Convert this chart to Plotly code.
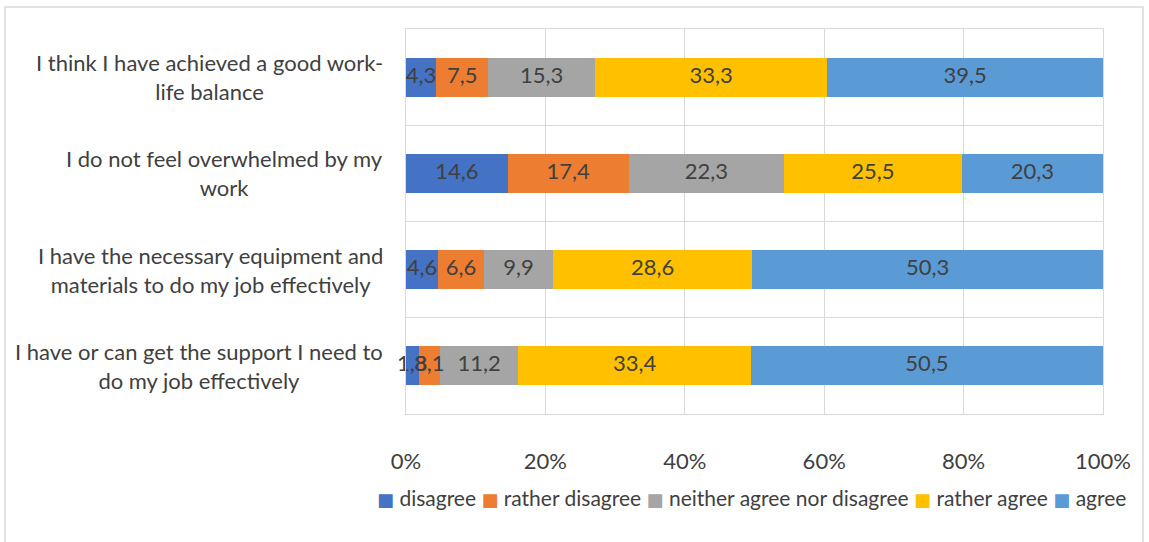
import plotly.graph_objects as go

# Survey statements (top to bottom) and answer shares in percent
statements = [
    "I think I have achieved a good work-<br>life balance",
    "I do not feel overwhelmed by my<br>work",
    "I have the necessary equipment and<br>materials to do my job effectively",
    "I have or can get the support I need to<br>do my job effectively",
]
answers = ["disagree", "rather disagree", "neither agree nor disagree", "rather agree", "agree"]

disagree = [4.3, 14.6, 4.6, 1.8]
rather_disagree = [7.5, 17.4, 6.6, 3.1]
neither = [15.3, 22.3, 9.9, 11.2]
rather_agree = [33.3, 25.5, 28.6, 33.4]
agree = [39.5, 20.3, 50.3, 50.5]

tick_values = [0, 20, 40, 60, 80, 100]
tick_labels = ["0%", "20%", "40%", "60%", "80%", "100%"]

series = [disagree, rather_disagree, neither, rather_agree, agree]
colors = ["#4472C4", "#ED7D31", "#A5A5A5", "#FFC000", "#5B9BD5"]

FONT = "Lato"
TXT = "#404040"
SIZE = 22

fig = go.Figure()
for name, vals, col in zip(answers, series, colors):
    fig.add_trace(go.Bar(
        y=statements, x=vals, name=name, orientation="h",
        marker=dict(color=col, line=dict(width=0)),
        hoverinfo="x+name", showlegend=False,
    ))

# Value labels on top of all bars, at the centre of each (normalised) segment
totals = [sum(s[i] for s in series) for i in range(len(statements))]
start = [0.0] * len(statements)
for vals in series:
    centres = []
    for i, v in enumerate(vals):
        share = 100.0 * v / totals[i]
        centres.append(start[i] + share / 2)
        start[i] += share
    fig.add_trace(go.Scatter(
        x=centres, y=statements, mode="text",
        text=[f"{v:.1f}".replace(".", ",") for v in vals],
        textposition="middle center",
        textfont=dict(family=FONT, size=SIZE, color=TXT),
        showlegend=False, cliponaxis=False, hoverinfo="skip",
    ))

# Category labels, centred line by line, left of the plot area
for s in statements:
    fig.add_annotation(
        x=0, xref="paper", xanchor="right", xshift=-21,
        y=s, yref="y", yanchor="middle",
        text=s, showarrow=False, align="center",
        font=dict(family=FONT, size=SIZE, color=TXT),
    )

# Compact one-line legend below the axis
legend_text = " ".join(
    f"<span style='color:{c};font-size:18px;font-family:DejaVu Sans'>■</span> {a}"
    for a, c in zip(answers, colors)
)
fig.add_annotation(
    x=0.495, xref="paper", xanchor="center",
    y=-0.2156, yref="paper", yanchor="middle",
    text=legend_text, showarrow=False,
    font=dict(family=FONT, size=SIZE - 1, color=TXT),
)

# Outer chart frame
fig.add_shape(type="rect", xref="paper", yref="paper",
              x0=-0.5753, x1=1.0574, y0=-0.6, y1=1.0571,
              line=dict(color="#D9D9D9", width=1.5), layer="below")

fig.update_layout(
    width=1149, height=542,
    barmode="stack", barnorm="percent", bargap=0.595,
    plot_bgcolor="white", paper_bgcolor="white",
    margin=dict(l=406, r=46, t=29, b=128, autoexpand=False),
    font=dict(family=FONT, color=TXT),
    showlegend=False,
    xaxis=dict(range=[0, 100], tickmode="array", tickvals=tick_values, ticktext=tick_labels,
               showgrid=True, gridcolor="#D9D9D9", gridwidth=1,
               showline=True, linecolor="#D9D9D9", mirror=True, automargin=False,
               zeroline=False, ticks="outside", ticklen=28, tickcolor="rgba(0,0,0,0)",
               tickfont=dict(family=FONT, size=SIZE, color=TXT)),
    yaxis=dict(autorange="reversed", showticklabels=False, tickson="boundaries",
               showgrid=True, gridcolor="#D9D9D9", gridwidth=1, automargin=False,
               showline=True, linecolor="#D9D9D9", mirror=True, ticks=""),
)

fig.write_html("out.html")
